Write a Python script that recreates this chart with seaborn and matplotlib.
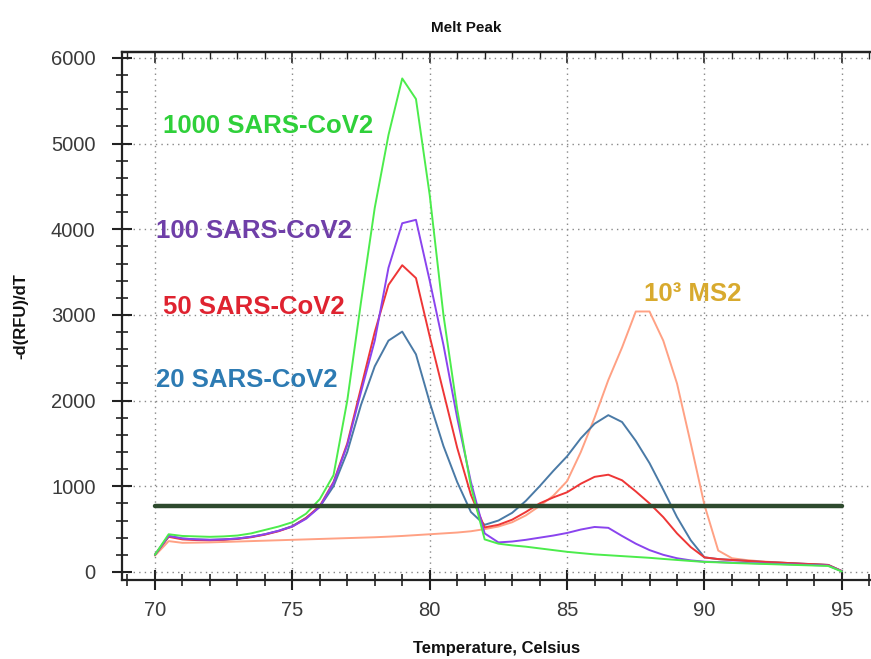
import numpy as np
import pandas as pd
import matplotlib
matplotlib.use("Agg")
import matplotlib.pyplot as plt
import seaborn as sns
from matplotlib.ticker import MultipleLocator

# ---- data ----
temps = [70.0, 70.5, 71.0, 71.5, 72.0, 72.5, 73.0, 73.5, 74.0, 74.5,
         75.0, 75.5, 76.0, 76.5, 77.0, 77.5, 78.0, 78.5, 79.0, 79.5,
         80.0, 80.5, 81.0, 81.5, 82.0, 82.5, 83.0, 83.5, 84.0, 84.5,
         85.0, 85.5, 86.0, 86.5, 87.0, 87.5, 88.0, 88.5, 89.0, 89.5,
         90.0, 90.5, 91.0, 91.5, 92.0, 92.5, 93.0, 93.5, 94.0, 94.5, 95.0]

sars_1000 = [200, 440, 420, 415, 410, 415, 425, 450, 490, 530,
             580, 680, 850, 1130, 2000, 3150, 4250, 5100, 5760, 5520,
             4400, 3000, 1900, 1000, 380, 330, 310, 295, 275, 255,
             235, 220, 205, 195, 185, 175, 165, 152, 140, 128,
             117, 112, 105, 100, 95, 90, 85, 80, 75, 70, 5]

sars_100 = [200, 420, 390, 380, 375, 380, 390, 410, 440, 480,
            530, 620, 760, 1040, 1480, 2100, 2700, 3550, 4070, 4110,
            3400, 2650, 1800, 1050, 450, 345, 355, 375, 400, 425,
            455, 495, 525, 515, 420, 330, 255, 200, 160, 135,
            120, 115, 110, 105, 100, 95, 90, 85, 80, 75, 8]

sars_50 = [200, 410, 380, 372, 370, 375, 385, 405, 435, 475,
           530, 630, 770, 1050, 1500, 2150, 2800, 3350, 3580, 3430,
           2750, 2100, 1450, 900, 520, 550, 610, 700, 800, 870,
           930, 1030, 1110, 1135, 1070, 940, 800, 640, 450, 290,
           170, 150, 140, 130, 120, 112, 105, 97, 90, 82, 10]

sars_20 = [200, 420, 390, 380, 375, 380, 390, 410, 440, 480,
           535, 630, 760, 1000, 1400, 1950, 2400, 2700, 2805, 2540,
           1980, 1470, 1050, 700, 550, 600, 690, 830, 1000, 1180,
           1350, 1560, 1730, 1830, 1750, 1530, 1270, 960, 640, 370,
           170, 150, 140, 130, 120, 112, 105, 97, 90, 82, 10]

ms2_1000 = [190, 360, 340, 342, 345, 350, 355, 360, 365, 370,
            375, 380, 385, 390, 395, 400, 405, 412, 420, 430,
            440, 450, 460, 475, 500, 530, 580, 660, 770, 890,
            1060, 1400, 1800, 2240, 2620, 3040, 3040, 2700, 2200, 1500,
            780, 250, 160, 140, 125, 115, 105, 95, 88, 80, 10]

threshold_x = [70, 95]
threshold_y = [770, 770]

series_names = ["1000 SARS-CoV2", "100 SARS-CoV2", "50 SARS-CoV2",
                "20 SARS-CoV2", "10³ MS2"]
series_values = [sars_1000, sars_100, sars_50, sars_20, ms2_1000]
line_colors = ["#4cec4c", "#8a44ee", "#ee3636", "#4a7aa6", "#ffa184"]
label_colors = ["#2fd03a", "#6f3fa8", "#df2330", "#2d7bb3", "#d8aa2e"]
label_x = [70.3, 70.05, 70.3, 70.05, 87.8]
label_y = [5210, 3980, 3090, 2240, 3250]

# ---- figure ----
sns.set_theme(style="white")
plt.rcParams["font.family"] = ["Liberation Sans", "DejaVu Sans"]

fig = plt.figure(figsize=(8.71, 6.59), dpi=100)
ax = fig.add_axes([0.140, 0.120, 0.860, 0.801])

df = pd.DataFrame({
    "temp": np.tile(temps, len(series_names)),
    "value": np.concatenate(series_values),
    "series": np.repeat(series_names, len(temps)),
})

draw_order = [4, 3, 2, 1, 0]
for i in draw_order:
    sub = df[df["series"] == series_names[i]]
    sns.lineplot(data=sub, x="temp", y="value", color=line_colors[i],
                 linewidth=1.4, ax=ax, legend=False)

sns.lineplot(x=threshold_x, y=threshold_y, color="#2e4a2e", linewidth=3.2,
             ax=ax, legend=False)

for name, c, lx, ly in zip(series_names, label_colors, label_x, label_y):
    ax.text(lx, ly, name, color=c, fontsize=18.5, fontweight="bold",
            va="center", ha="left")

ax.set_xlim(68.8, 96.06)
ax.set_ylim(-93, 6068)
ax.xaxis.set_major_locator(MultipleLocator(5))
ax.xaxis.set_minor_locator(MultipleLocator(1))
ax.yaxis.set_major_locator(MultipleLocator(1000))
ax.yaxis.set_minor_locator(MultipleLocator(200))

ax.grid(True, which="major", linestyle=(0, (1, 3)), color="#888888",
        linewidth=1.0)

for side in ["left", "bottom", "top"]:
    ax.spines[side].set_visible(True)
    ax.spines[side].set_color("#222222")
    ax.spines[side].set_linewidth(1.6)
ax.spines["right"].set_visible(False)

ax.tick_params(axis="both", which="major", direction="inout", length=14,
               width=1.5, colors="#222222", labelsize=14.5,
               labelcolor="#3a3a3a", bottom=True, left=True)
ax.tick_params(axis="both", which="minor", direction="inout", length=8,
               width=1.2, colors="#222222", bottom=True, left=True)
ax.tick_params(axis="x", which="major", pad=8)
ax.tick_params(axis="y", which="major", pad=12)

top = ax.secondary_xaxis("top")
top.xaxis.set_major_locator(MultipleLocator(5))
top.xaxis.set_minor_locator(MultipleLocator(1))
top.tick_params(which="major", direction="in", length=8, width=1.2,
                colors="#222222", labeltop=False)
top.tick_params(which="minor", direction="in", length=5, width=1.0,
                colors="#222222")
top.spines["top"].set_linewidth(1.6)
top.spines["top"].set_color("#222222")

ax.set_xlabel("Temperature, Celsius", fontsize=12, fontweight="bold",
              color="#111111", labelpad=15)
ax.set_ylabel("-d(RFU)/dT", fontsize=12, fontweight="bold",
              color="#111111", labelpad=16)
fig.text(466 / 871, 1 - 28 / 659, "Melt Peak", fontsize=11,
         fontweight="bold", ha="center", va="center", color="#111111")

fig.savefig("out.png", dpi=100, facecolor="white")
